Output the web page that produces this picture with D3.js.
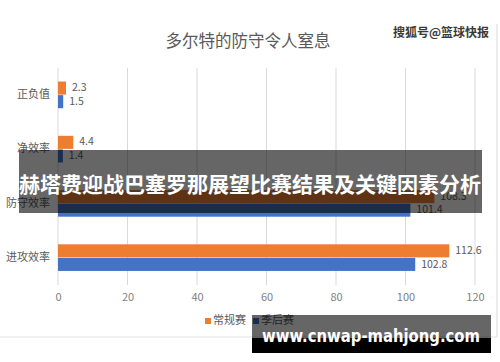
<!DOCTYPE html>
<html lang="zh">
<head>
<meta charset="utf-8">
<title>多尔特的防守令人窒息</title>
<script src="https://cdn.jsdelivr.net/npm/d3@7/dist/d3.min.js"></script>
<style>
  body { margin: 0; background: #fff; }
  text { font-family: "Noto Sans CJK SC", "Noto Sans", sans-serif; }
  .axis text { font-size: 11px; fill: #7f7f7f; }
  .axis path, .axis line { stroke: none; }
  .cat { font-size: 11px; fill: #595959; text-anchor: end; dominant-baseline: middle; }
  .val { font-size: 10.5px; fill: #595959; dominant-baseline: middle; }
</style>
</head>
<body>
<script>
var w = 500, h = 362;

// data
var categories = ["正负值", "净效率", "防守效率", "进攻效率"];
var regular = [2.3, 4.4, 108.3, 112.6];   // 常规赛
var playoff = [1.5, 1.4, 101.4, 102.8];   // 季后赛
var seriesNames = ["常规赛", "季后赛"];
var seriesColors = ["#ED7D31", "#4472C4"];
var xTicks = [0, 20, 40, 60, 80, 100, 120];

var xpadL = 58, xpadR = 475, ytop = 68, ybot = 285;

var svg = d3.select("body").append("svg").attr("width", w).attr("height", h);

// chart frame
svg.append("line").attr("x1", 497).attr("x2", 497).attr("y1", 24).attr("y2", 337)
   .attr("stroke", "#d9d9d9");
svg.append("line").attr("x1", 0).attr("x2", 497).attr("y1", 337).attr("y2", 337)
   .attr("stroke", "#e3e3e3");

// title
svg.append("text").attr("x", 248).attr("y", 43)
   .attr("text-anchor", "middle").attr("dominant-baseline", "middle")
   .style("font-size", "16.5px").style("fill", "#595959")
   .text("多尔特的防守令人窒息");

svg.append("text").attr("x", 489).attr("y", 34)
   .attr("text-anchor", "end").attr("dominant-baseline", "middle")
   .style("font-size", "12px").style("font-weight", "bold").style("fill", "#3a3a3a")
   .text("搜狐号@篮球快报");

var xScale = d3.scaleLinear().domain([0, 120]).range([xpadL, xpadR]);
var yScale = d3.scaleBand().domain(categories).range([ytop, ybot]).paddingInner(0.5).paddingOuter(0.25);
var bh = yScale.bandwidth() / 2;

// gridlines
svg.selectAll(".grid").data(xTicks).enter().append("line")
   .attr("x1", function(d) { return xScale(d); })
   .attr("x2", function(d) { return xScale(d); })
   .attr("y1", ytop).attr("y2", ybot)
   .attr("stroke", "#d9d9d9").attr("stroke-width", 1);

// x axis
svg.append("g").attr("class", "axis")
   .attr("transform", "translate(0," + (ybot + 2) + ")")
   .call(d3.axisBottom(xScale).tickValues(xTicks).tickSize(0).tickPadding(6));

// category labels
svg.selectAll(".cat").data(categories).enter().append("text")
   .attr("class", "cat")
   .attr("x", xpadL - 8)
   .attr("y", function(d) { return yScale(d) + bh; })
   .text(function(d) { return d; });

// bars
var series = [regular, playoff];
series.forEach(function(vals, s) {
  svg.selectAll(".bar" + s).data(vals).enter().append("rect")
     .attr("x", xScale(0))
     .attr("y", function(d, i) { return yScale(categories[i]) + s * bh; })
     .attr("width", function(d) { return xScale(d) - xScale(0); })
     .attr("height", bh - 0.5)
     .attr("fill", seriesColors[s]);

  svg.selectAll(".val" + s).data(vals).enter().append("text")
     .attr("class", "val")
     .attr("x", function(d) { return xScale(d) + 6; })
     .attr("y", function(d, i) { return yScale(categories[i]) + s * bh + bh / 2; })
     .text(function(d) { return d.toFixed(1); });
});

// legend
var legX = [205, 253];
seriesNames.forEach(function(name, i) {
  svg.append("rect").attr("x", legX[i]).attr("y", 318).attr("width", 6).attr("height", 6)
     .attr("fill", seriesColors[i]);
  svg.append("text").attr("x", legX[i] + 8).attr("y", 321.5)
     .attr("dominant-baseline", "middle")
     .style("font-size", "11px").style("fill", "#595959")
     .text(name);
});

// headline overlay
svg.append("rect").attr("x", 19).attr("y", 150).attr("width", 463).attr("height", 63)
   .attr("fill", "rgba(0,0,0,0.6)");
svg.append("text").attr("x", 250).attr("y", 186)
   .attr("text-anchor", "middle").attr("dominant-baseline", "middle")
   .style("font-size", "21px").style("font-weight", "bold").style("fill", "#fff")
   .text("赫塔费迎战巴塞罗那展望比赛结果及关键因素分析");

// site banner
svg.append("rect").attr("x", 252).attr("y", 315).attr("width", 239).attr("height", 23)
   .attr("fill", "rgba(0,0,0,0.6)");
svg.append("rect").attr("x", 252).attr("y", 338).attr("width", 239).attr("height", 15)
   .attr("fill", "#000");
svg.append("text").attr("x", 262).attr("y", 337)
   .attr("dominant-baseline", "middle")
   .attr("textLength", 218).attr("lengthAdjust", "spacingAndGlyphs")
   .style("font-size", "18px").style("font-weight", "bold").style("fill", "#fff")
   .style("font-family", "'DejaVu Sans', sans-serif")
   .text("www.cnwap-mahjong.com");
</script>
</body>
</html>
